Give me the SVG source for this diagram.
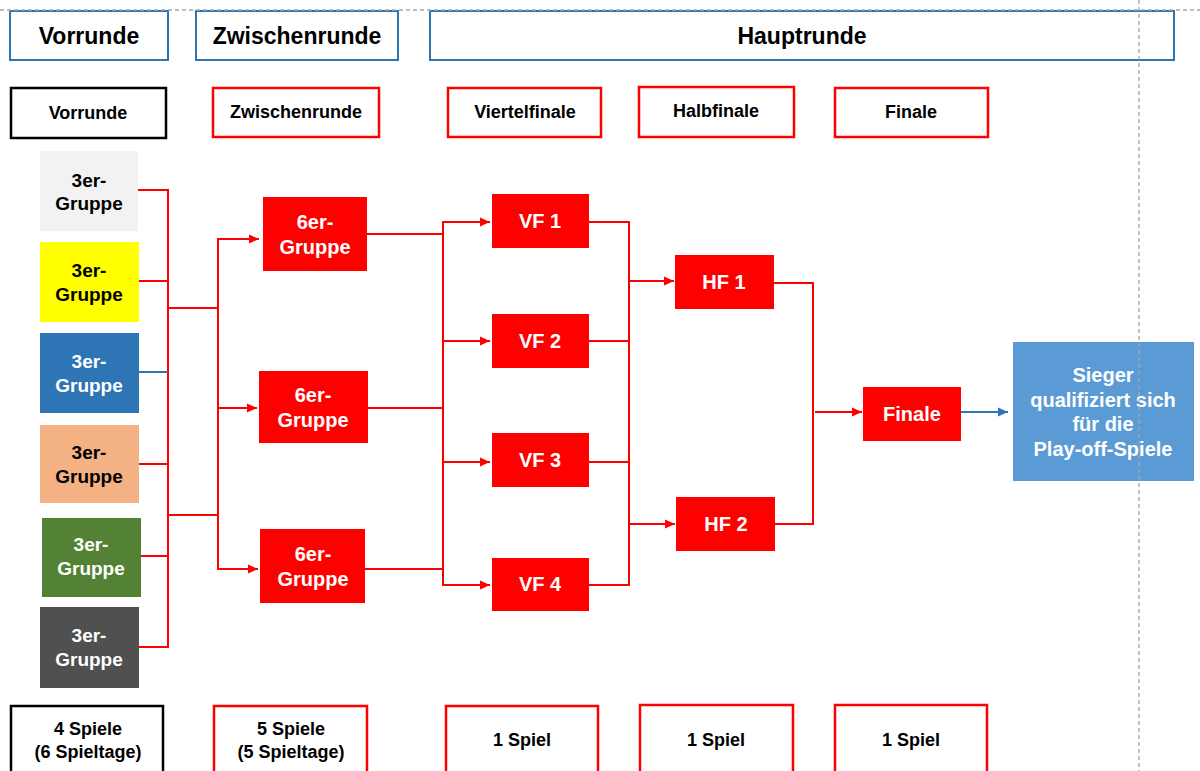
<svg xmlns="http://www.w3.org/2000/svg" width="1200" height="771" viewBox="0 0 1200 771">
<defs>
<style>
text{font-family:"Liberation Sans",Arial,sans-serif;font-weight:bold;text-anchor:middle}
.hdr{fill:#fff;stroke:#2e75b6;stroke-width:2}
.hdrt{font-size:23px;fill:#000}
.lab{fill:#fff;stroke:#ff0000;stroke-width:2.5}
.labk{fill:#fff;stroke:#000;stroke-width:2.5}
.labt{font-size:18px;fill:#000}
.g3{font-size:19px}
.red{fill:#ff0000}
.wt{fill:#fff;font-size:20px}
.con{fill:none;stroke:#ff0000;stroke-width:2}
.dash{stroke:#a6a6a6;stroke-width:1.3;stroke-dasharray:4 3;fill:none}
</style>
<marker id="arr" markerWidth="10" markerHeight="10" refX="10" refY="5" orient="auto" markerUnits="userSpaceOnUse"><path d="M0,0.5 L10,5 L0,9.5 z" fill="#ff0000"/></marker>
<marker id="arrb" markerWidth="10" markerHeight="10" refX="10" refY="5" orient="auto" markerUnits="userSpaceOnUse"><path d="M0,0.5 L10,5 L0,9.5 z" fill="#2e75b6"/></marker>
</defs>
<rect width="1200" height="771" fill="#fff"/>

<g id="hdr-vorrunde"><rect class="hdr" x="10" y="11" width="158" height="49"/><text class="hdrt" x="89" y="44">Vorrunde</text></g>
<g id="hdr-zwischenrunde"><rect class="hdr" x="196" y="11" width="202" height="49"/><text class="hdrt" x="297" y="44">Zwischenrunde</text></g>
<g id="hdr-hauptrunde"><rect class="hdr" x="430" y="11" width="744" height="49"/><text class="hdrt" x="802" y="44">Hauptrunde</text></g>

<g id="lab-vorrunde"><rect class="labk" x="11" y="88" width="155" height="50"/><text class="labt" x="88" y="119">Vorrunde</text></g>
<g id="lab-zwischenrunde"><rect class="lab" x="213" y="88" width="166" height="49"/><text class="labt" x="296" y="118">Zwischenrunde</text></g>
<g id="lab-viertelfinale"><rect class="lab" x="448" y="88" width="153" height="49"/><text class="labt" x="525" y="118">Viertelfinale</text></g>
<g id="lab-halbfinale"><rect class="lab" x="639" y="87" width="155" height="50"/><text class="labt" x="716" y="117">Halbfinale</text></g>
<g id="lab-finale"><rect class="lab" x="835" y="88" width="153" height="49"/><text class="labt" x="911" y="118">Finale</text></g>

<g id="g3-1"><rect x="40" y="151" width="98" height="80" fill="#f2f2f2"/><text class="g3" x="89" y="187" fill="#000">3er-</text><text class="g3" x="89" y="210" fill="#000">Gruppe</text></g>
<g id="g3-2"><rect x="40" y="242" width="99" height="80" fill="#ffff00"/><text class="g3" x="89" y="277" fill="#000">3er-</text><text class="g3" x="89" y="301" fill="#000">Gruppe</text></g>
<g id="g3-3"><rect x="40" y="333" width="99" height="80" fill="#2e75b6"/><text class="g3" x="89" y="368" fill="#fff">3er-</text><text class="g3" x="89" y="392" fill="#fff">Gruppe</text></g>
<g id="g3-4"><rect x="40" y="425" width="99" height="78" fill="#f4b183"/><text class="g3" x="89" y="459" fill="#000">3er-</text><text class="g3" x="89" y="483" fill="#000">Gruppe</text></g>
<g id="g3-5"><rect x="42" y="518" width="99" height="79" fill="#548235"/><text class="g3" x="91" y="551" fill="#fff">3er-</text><text class="g3" x="91" y="575" fill="#fff">Gruppe</text></g>
<g id="g3-6"><rect x="40" y="607" width="99" height="81" fill="#505050"/><text class="g3" x="89" y="642" fill="#fff">3er-</text><text class="g3" x="89" y="666" fill="#fff">Gruppe</text></g>

<g id="g6-1"><rect class="red" x="263" y="197" width="104" height="74"/><text class="wt" x="315" y="229">6er-</text><text class="wt" x="315" y="254">Gruppe</text></g>
<g id="g6-2"><rect class="red" x="259" y="371" width="109" height="72"/><text class="wt" x="313" y="402">6er-</text><text class="wt" x="313" y="427">Gruppe</text></g>
<g id="g6-3"><rect class="red" x="260" y="529" width="105" height="74"/><text class="wt" x="313" y="561">6er-</text><text class="wt" x="313" y="586">Gruppe</text></g>

<g id="vf1"><rect class="red" x="492" y="194" width="97" height="54"/><text class="wt" x="540" y="228">VF 1</text></g>
<g id="vf2"><rect class="red" x="492" y="314" width="97" height="54"/><text class="wt" x="540" y="348">VF 2</text></g>
<g id="vf3"><rect class="red" x="492" y="433" width="97" height="54"/><text class="wt" x="540" y="467">VF 3</text></g>
<g id="vf4"><rect class="red" x="492" y="558" width="97" height="53"/><text class="wt" x="540" y="591">VF 4</text></g>

<g id="hf1"><rect class="red" x="675" y="255" width="99" height="54"/><text class="wt" x="724" y="289">HF 1</text></g>
<g id="hf2"><rect class="red" x="676" y="497" width="99" height="54"/><text class="wt" x="726" y="531">HF 2</text></g>

<g id="finale"><rect class="red" x="863" y="387" width="98" height="54"/><text class="wt" x="912" y="421">Finale</text></g>

<g id="sieger"><rect x="1013" y="342" width="181" height="139" fill="#5b9bd5"/>
<text class="wt" x="1103" y="382">Sieger</text><text class="wt" x="1103" y="407">qualifiziert sich</text><text class="wt" x="1103" y="431">für die</text><text class="wt" x="1103" y="456">Play-off-Spiele</text></g>

<g id="bot-1"><rect class="labk" x="11" y="706" width="152" height="80"/><text class="labt" x="88" y="735">4 Spiele</text><text class="labt" x="88" y="758">(6 Spieltage)</text></g>
<g id="bot-2"><rect class="lab" x="214" y="706" width="153" height="80"/><text class="labt" x="291" y="735">5 Spiele</text><text class="labt" x="291" y="758">(5 Spieltage)</text></g>
<g id="bot-3"><rect class="lab" x="446" y="706" width="152" height="80"/><text class="labt" x="522" y="746">1 Spiel</text></g>
<g id="bot-4"><rect class="lab" x="640" y="705" width="153" height="80"/><text class="labt" x="716" y="746">1 Spiel</text></g>
<g id="bot-5"><rect class="lab" x="835" y="705" width="152" height="80"/><text class="labt" x="911" y="746">1 Spiel</text></g>

<g id="connectors">
<path class="con" d="M138,190 H168 M139,281 H168 M139,464 H168 M141,556 H168 M139,647 H168 M168,189 V648"/>
<path d="M139,372 H168" fill="none" stroke="#2e75b6" stroke-width="2"/>
<path class="con" d="M168,308 H218 M168,515 H218 M218,238 V570"/>
<path class="con" marker-end="url(#arr)" d="M218,239 H259"/>
<path class="con" marker-end="url(#arr)" d="M218,408 H257"/>
<path class="con" marker-end="url(#arr)" d="M218,569 H258"/>
<path class="con" d="M367,234 H443 M368,408 H443 M365,569 H443 M443,221 V586"/>
<path class="con" marker-end="url(#arr)" d="M443,222 H490"/>
<path class="con" marker-end="url(#arr)" d="M443,341 H490"/>
<path class="con" marker-end="url(#arr)" d="M443,462 H490"/>
<path class="con" marker-end="url(#arr)" d="M443,585 H490"/>
<path class="con" d="M589,222 H629 M589,341 H629 M589,462 H629 M589,585 H629 M629,221 V586"/>
<path class="con" marker-end="url(#arr)" d="M629,281 H674"/>
<path class="con" marker-end="url(#arr)" d="M629,524 H675"/>
<path class="con" d="M774,283 H813 M775,524 H813 M813,282 V525"/>
<path class="con" marker-end="url(#arr)" d="M815,412 H862"/>
<path fill="none" stroke="#2e75b6" stroke-width="2" marker-end="url(#arrb)" d="M961,412 H1008"/>
</g>

<g id="guides">
<path class="dash" d="M0,10 H1200"/>
<path class="dash" d="M1139,0 V771"/>
</g>
</svg>
